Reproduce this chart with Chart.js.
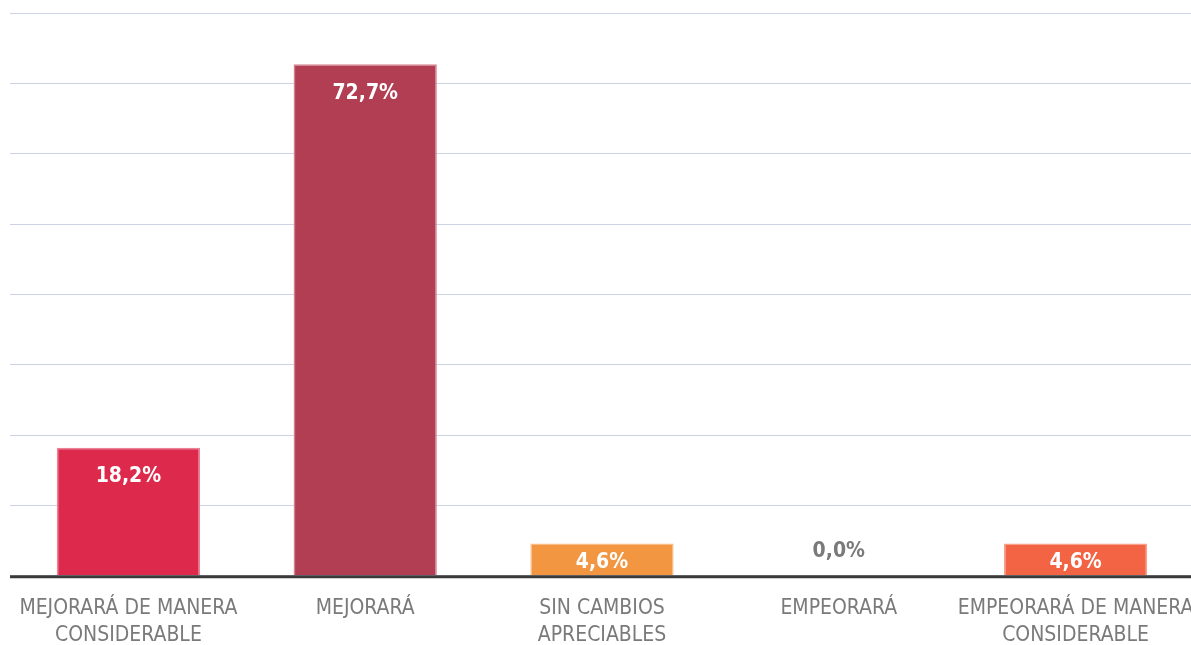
<!DOCTYPE html>
<html>
<head>
<meta charset="utf-8">
<script src="https://cdn.jsdelivr.net/npm/chart.js@4/dist/chart.umd.min.js"></script>
<style>
  html, body { margin: 0; padding: 0; background: #fff; overflow: hidden; }
  #wrap { width: 1194px; height: 670px; position: relative; }
</style>
</head>
<body>
<div id="wrap"><canvas id="chart"></canvas></div>
<script>
const categories = [
  ['MEJORARÁ DE MANERA', 'CONSIDERABLE'],
  'MEJORARÁ',
  ['SIN CAMBIOS', 'APRECIABLES'],
  'EMPEORARÁ',
  ['EMPEORARÁ DE MANERA', 'CONSIDERABLE']
];
const values = [18.2, 72.7, 4.6, 0.0, 4.6];
const valueLabels = ['18,2%', '72,7%', '4,6%', '0,0%', '4,6%'];
const barColors = ['#DD2A4C', '#B23E54', '#F39641', '#F26444', '#F26444'];
const barBorders = ['#EC8196', '#D4818F', '#F8BC86', '#F7A08C', '#F7A08C'];

const FONT = '"Liberation Sans Narrow", "DejaVu Sans Condensed", "Roboto", sans-serif';

// value text inside the top of each bar
const valueLabelPlugin = {
  id: 'valueLabels',
  afterDatasetsDraw(chart) {
    const ctx = chart.ctx;
    const meta = chart.getDatasetMeta(0);
    const base = chart.scales.y.getPixelForValue(0);
    ctx.save();
    ctx.font = 'bold 21px ' + FONT;
    ctx.textAlign = 'center';
    ctx.textBaseline = 'middle';
    meta.data.forEach((bar, i) => {
      let y;
      if (values[i] === 0) {
        ctx.fillStyle = '#7a7a7a';
        y = base - 24;
      } else {
        ctx.fillStyle = '#ffffff';
        y = Math.min(bar.y + 29, base - 13);
      }
      ctx.fillText(valueLabels[i], bar.x, y);
    });
    ctx.restore();
  }
};

const axisLinePlugin = {
  id: 'axisLine',
  afterDatasetsDraw(chart) {
    const ctx = chart.ctx;
    const area = chart.chartArea;
    const y = chart.scales.y.getPixelForValue(0);
    ctx.save();
    ctx.strokeStyle = '#3a3a3a';
    ctx.lineWidth = 3;
    ctx.beginPath();
    ctx.moveTo(area.left, y + 1);
    ctx.lineTo(area.right, y + 1);
    ctx.stroke();
    ctx.restore();
  }
};

new Chart(document.getElementById('chart'), {
  type: 'bar',
  data: {
    labels: categories,
    datasets: [{
      data: values,
      backgroundColor: barColors,
      borderColor: barBorders,
      borderWidth: 1.5,
      borderSkipped: 'bottom',
      categoryPercentage: 1,
      barPercentage: 0.605
    }]
  },
  options: {
    responsive: true,
    maintainAspectRatio: false,
    animation: false,
    layout: { padding: { left: 10, right: 0, top: 13, bottom: 2 } },
    plugins: {
      legend: { display: false },
      tooltip: { enabled: false }
    },
    scales: {
      x: {
        grid: { display: false, drawTicks: false },
        border: { display: false },
        ticks: {
          color: '#7a7a7a',
          font: { family: FONT, size: 21, lineHeight: 1.29 },
          padding: 19,
          maxRotation: 0,
          autoSkip: false
        },
        afterFit(scale) {
          scale.paddingLeft = 0;
          scale.paddingRight = 0;
        }
      },
      y: {
        min: 0,
        max: 80,
        ticks: { stepSize: 10, display: false },
        grid: { color: '#ccd3e2', lineWidth: 1, drawTicks: false },
        border: { display: false }
      }
    }
  },
  plugins: [valueLabelPlugin, axisLinePlugin]
});
</script>
</body>
</html>
